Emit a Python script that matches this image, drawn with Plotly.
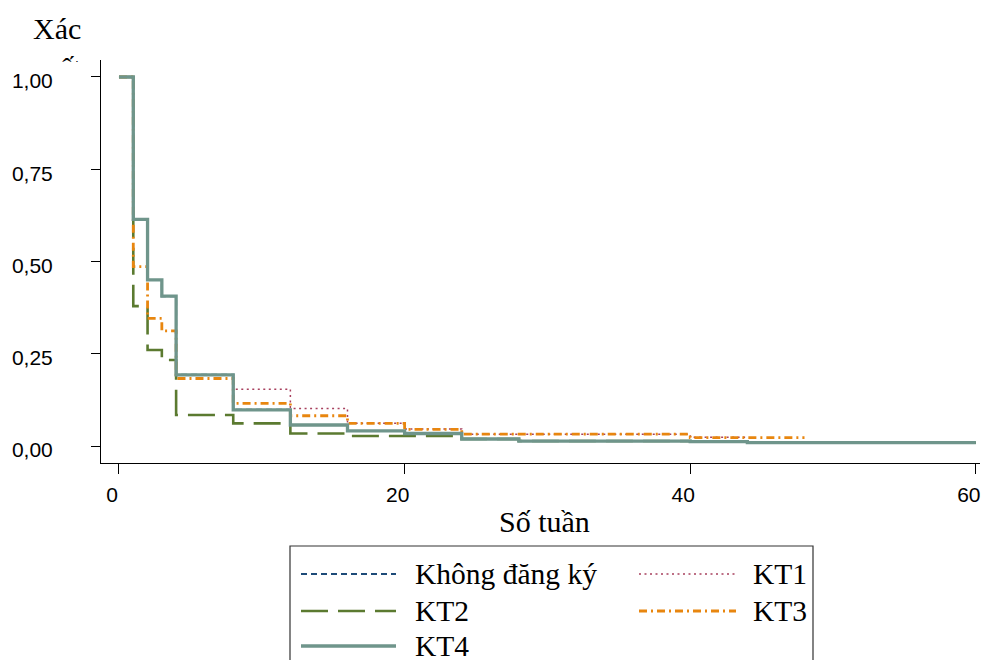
import plotly.graph_objects as go

# Kaplan-Meier style survival estimates by group (step functions, weeks)
weeks_none = [0, 1, 2, 3, 4, 8, 12, 16, 20, 24, 28, 40, 44, 60]
surv_none = [1.0, 0.614, 0.45, 0.406, 0.193, 0.098, 0.057, 0.041, 0.034, 0.019, 0.0135, 0.0117, 0.009, 0.009]

weeks_kt1 = [0, 1, 2, 3, 4, 8, 12, 16, 20, 24, 40, 44]
surv_kt1 = [1.0, 0.614, 0.45, 0.406, 0.193, 0.154, 0.102, 0.0615, 0.046, 0.032, 0.0235, 0.0235]

weeks_kt2 = [0, 1, 2, 3, 4, 8, 12, 16, 24, 28, 40, 44, 60]
surv_kt2 = [1.0, 0.379, 0.26, 0.233, 0.084, 0.0615, 0.034, 0.027, 0.019, 0.0135, 0.0117, 0.009, 0.009]

weeks_kt3 = [0, 1, 2, 3, 4, 8, 12, 16, 20, 24, 40, 48]
surv_kt3 = [1.0, 0.486, 0.346, 0.312, 0.183, 0.1155, 0.082, 0.0615, 0.045, 0.032, 0.0228, 0.0228]

weeks_kt4 = [0, 1, 2, 3, 4, 8, 12, 16, 20, 24, 28, 40, 44, 60]
surv_kt4 = [1.0, 0.614, 0.45, 0.406, 0.193, 0.098, 0.057, 0.041, 0.034, 0.019, 0.0135, 0.0117, 0.009, 0.009]

group_names = ["Không đăng ký", "KT1", "KT2", "KT3", "KT4"]
x_ticks = [0, 20, 40, 60]
y_ticks = [0, 0.25, 0.5, 0.75, 1.0]
y_tick_text = ["0,00", "0,25", "0,50", "0,75", "1,00"]

styles = {
    "Không đăng ký": dict(color="#1d4a78", width=2, dash="6px,4px"),
    "KT1": dict(color="#a8405e", width=1.5, dash="2px,3.5px"),
    "KT2": dict(color="#5b7a30", width=2.6, dash="27px,10px"),
    "KT3": dict(color="#e8860f", width=2.8, dash="8px,4px,2px,4px"),
    "KT4": dict(color="#6f958b", width=3.3, dash="solid"),
}

series = {
    "Không đăng ký": (weeks_none, surv_none),
    "KT1": (weeks_kt1, surv_kt1),
    "KT2": (weeks_kt2, surv_kt2),
    "KT3": (weeks_kt3, surv_kt3),
    "KT4": (weeks_kt4, surv_kt4),
}

W, H = 983, 660
L, R, T, B = 101, 3, 60, 197
PW, PH = W - L - R, H - T - B


def px_x(px):
    return (px - L) / PW


def px_y(py):
    return (H - B - py) / PH


fig = go.Figure()
for name in group_names:
    xs, ys = series[name]
    st = styles[name]
    fig.add_trace(go.Scatter(
        x=xs, y=ys, mode="lines", name=name, line_shape="hv",
        line=dict(color=st["color"], width=st["width"], dash=st["dash"]),
        showlegend=False, hoverinfo="skip",
    ))

serif = "Liberation Serif, Times New Roman, serif"
sans = "Liberation Sans, Arial, sans-serif"

# Legend box, drawn by hand (two columns, three rows)
shapes = [dict(type="rect", xref="paper", yref="paper",
               x0=px_x(290), x1=px_x(813), y0=px_y(672), y1=px_y(546),
               line=dict(color="#333333", width=1.2), fillcolor="rgba(0,0,0,0)")]
annotations = []
legend_slots = {
    "Không đăng ký": (301, 396, 413, 574),
    "KT1": (639, 736, 751, 574),
    "KT2": (301, 396, 413, 611),
    "KT3": (639, 736, 751, 611),
    "KT4": (301, 396, 413, 646),
}
for name in group_names:
    x0, x1, tx, yy = legend_slots[name]
    st = styles[name]
    shapes.append(dict(type="line", xref="paper", yref="paper",
                       x0=px_x(x0), x1=px_x(x1), y0=px_y(yy), y1=px_y(yy),
                       line=dict(color=st["color"], width=st["width"], dash=st["dash"])))
    annotations.append(dict(text=name, xref="paper", yref="paper",
                            x=px_x(tx), y=px_y(yy), xanchor="left", yanchor="middle",
                            showarrow=False, font=dict(family=serif, size=29.5, color="black")))

# Y axis title, second line clipped by the text box height
annotations.append(dict(text="Xác<br>suất", xref="paper", yref="paper",
                        x=px_x(57), y=px_y(10), xanchor="center", yanchor="top",
                        height=50, valign="top",
                        showarrow=False, font=dict(family=serif, size=30, color="black")))
# X axis title
annotations.append(dict(text="Số tuần", xref="paper", yref="paper",
                        x=px_x(544), y=px_y(521), xanchor="center", yanchor="middle",
                        showarrow=False, font=dict(family=serif, size=30, color="black")))

fig.update_layout(
    width=W, height=H,
    margin=dict(l=L, r=R, t=T, b=B, pad=0),
    paper_bgcolor="white", plot_bgcolor="white",
    shapes=shapes, annotations=annotations,
    showlegend=False,
)
fig.update_xaxes(
    range=[-1.26, 60.29], tickvals=x_ticks, ticks="outside", ticklen=10,
    tickcolor="black", tickwidth=1, showline=True, linecolor="black", linewidth=1,
    showgrid=False, zeroline=False, ticklabelshift=-7, ticklabelstandoff=3,
    tickfont=dict(family=sans, size=21, color="black"),
)
fig.update_yaxes(
    range=[-0.046, 1.046], tickvals=y_ticks, ticktext=y_tick_text, ticks="outside",
    ticklen=9, tickcolor="black", tickwidth=1, showline=True, linecolor="black",
    linewidth=1, showgrid=False, zeroline=False, ticklabelshift=4, ticklabelstandoff=34,
    tickfont=dict(family=sans, size=21, color="black"),
)

fig.write_html("out.html")
